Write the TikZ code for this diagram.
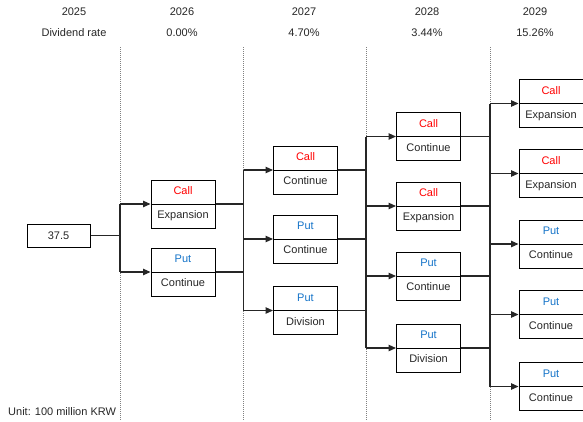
\documentclass[tikz,border=0pt]{standalone}
\usepackage{fontspec}
\setmainfont{Liberation Sans}
\usepackage{xcolor}
\usepackage{tikz}
\usetikzlibrary{arrows.meta, shapes.multipart, calc}

\definecolor{callred}{RGB}{255,0,0}
\definecolor{putblue}{RGB}{20,115,200}
\newcommand{\opt}[2]{#1\strut\nodepart{two}#2\strut}

\begin{document}
\begin{tikzpicture}[x=1pt, y=-1pt, >={Triangle[length=7.5pt,width=6.5pt]},
  every node/.style={font=\fontsize{11}{12.6}\selectfont, text=black!85},
  optbox/.style={draw, line width=1pt, rectangle split, rectangle split parts=2,
    minimum width=64pt, inner ysep=5.2pt, inner xsep=2pt, anchor=text split west},
  conn/.style={line width=1.1pt, black!85},
  yearline/.style={gray, line width=0.6pt, dash pattern=on 1pt off 1pt}]
  \useasboundingbox (0,0) rectangle (583,421);
  % year columns
  \node (y0) at (74,12) {2025};   \node (r0) at (74,33) {Dividend rate};
  \node (y1) at (182,12) {2026};  \node (r1) at (182,33) {0.00\%};
  \node (y2) at (304,12) {2027};  \node (r2) at (304,33) {4.70\%};
  \node (y3) at (427,12) {2028};  \node (r3) at (427,33) {3.44\%};
  \node (y4) at (535,12) {2029};  \node (r4) at (535,33) {15.26\%};
  \coordinate (j1) at (120,0); \coordinate (j2) at (243.5,0);
  \coordinate (j3) at (366,0); \coordinate (j4) at (490,0);
  \foreach \j in {j1,j2,j3,j4} \draw[yearline] ($(\j)+(0,47)$) -- ($(\j)+(0,421)$);
  % nodes
  \node[draw, line width=1pt, minimum width=63pt, minimum height=23pt] (root) at (58.5,235.5) {37.5};
  \node[optbox] (a1) at (150.5,204) {\opt{\textcolor{callred}{Call}}{Expansion}};
  \node[optbox] (a2) at (150.5,272) {\opt{\textcolor{putblue}{Put}}{Continue}};
  \node[optbox] (b1) at (273,170)   {\opt{\textcolor{callred}{Call}}{Continue}};
  \node[optbox] (b2) at (273,239)   {\opt{\textcolor{putblue}{Put}}{Continue}};
  \node[optbox] (b3) at (273,310.5) {\opt{\textcolor{putblue}{Put}}{Division}};
  \node[optbox] (c1) at (396,136.5) {\opt{\textcolor{callred}{Call}}{Continue}};
  \node[optbox] (c2) at (396,206)   {\opt{\textcolor{callred}{Call}}{Expansion}};
  \node[optbox] (c3) at (396,276)   {\opt{\textcolor{putblue}{Put}}{Continue}};
  \node[optbox] (c4) at (396,348)   {\opt{\textcolor{putblue}{Put}}{Division}};
  \node[optbox] (d1) at (518.5,103.5) {\opt{\textcolor{callred}{Call}}{Expansion}};
  \node[optbox] (d2) at (518.5,173.5) {\opt{\textcolor{callred}{Call}}{Expansion}};
  \node[optbox] (d3) at (518.5,244)   {\opt{\textcolor{putblue}{Put}}{Continue}};
  \node[optbox] (d4) at (518.5,314.5) {\opt{\textcolor{putblue}{Put}}{Continue}};
  \node[optbox] (d5) at (518.5,386.5) {\opt{\textcolor{putblue}{Put}}{Continue}};
  % connectors
  \draw[conn] (root.east) -- (root.east -| j1);
  \draw[conn] (a1.text split west -| j1) -- (a2.text split west -| j1);
  \foreach \n in {a1,a2} \draw[conn,->] (\n.text split west -| j1) -- (\n.text split west);
  \foreach \n in {a1,a2} \draw[conn] (\n.text split east) -- (\n.text split east -| j2);
  \draw[conn] (b1.text split west -| j2) -- (b3.text split west -| j2);
  \foreach \n in {b1,b2,b3} \draw[conn,->] (\n.text split west -| j2) -- (\n.text split west);
  \foreach \n in {b1,b2,b3} \draw[conn] (\n.text split east) -- (\n.text split east -| j3);
  \draw[conn] (c1.text split west -| j3) -- (c4.text split west -| j3);
  \foreach \n in {c1,c2,c3,c4} \draw[conn,->] (\n.text split west -| j3) -- (\n.text split west);
  \foreach \n in {c1,c2,c3,c4} \draw[conn] (\n.text split east) -- (\n.text split east -| j4);
  \draw[conn] (d1.text split west -| j4) -- (d5.text split west -| j4);
  \foreach \n in {d1,d2,d3,d4,d5} \draw[conn,->] (\n.text split west -| j4) -- (\n.text split west);
  \node[anchor=west, inner sep=0pt] (unit) at (8,412) {Unit: 100 million KRW};
\end{tikzpicture}
\end{document}
